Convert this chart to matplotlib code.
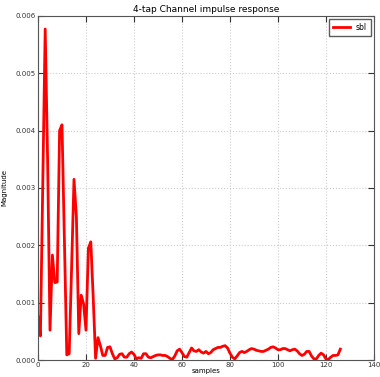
import matplotlib
matplotlib.use('Agg')
import matplotlib.pyplot as plt

# impulse response magnitude, one value per sample
magnitude = [
    0.00075, 0.00042, 0.0031, 0.00577, 0.0035, 0.00052, 0.00183, 0.00135,
    0.00136, 0.0040, 0.0041, 0.0021, 0.00009, 0.00011, 0.0016, 0.00315,
    0.0025, 0.00046, 0.00113, 0.00098, 0.00052, 0.00195, 0.00206, 0.0011,
    0.00003, 0.00039, 0.00025, 0.00008, 0.00008, 0.00022, 0.00023, 0.00011,
    0.00002, 0.00004, 0.0001, 0.00011, 0.00005, 0.00005, 0.00011, 0.00014,
    0.0001, 0.00002, 0.00004, 0.00003, 0.00011, 0.00011, 0.00005, 0.00004,
    0.00006, 0.00008, 0.00009, 0.00009, 0.00008, 0.00008, 0.00006, 0.00003,
    0.00001, 0.00007, 0.00016, 0.00019, 0.00013, 0.00006, 0.00005, 0.00013,
    0.00021, 0.00016, 0.00015, 0.00018, 0.00014, 0.00012, 0.00015, 0.00011,
    0.00013, 0.00018, 0.0002, 0.00022, 0.00022, 0.00024, 0.00025, 0.00021,
    0.00012, 0.00005, 0.00002, 0.00007, 0.00013, 0.00015, 0.00013, 0.00015,
    0.00018, 0.0002, 0.00019, 0.00017, 0.00016, 0.00015, 0.00015, 0.00017,
    0.00019, 0.00022, 0.00023, 0.00021, 0.00018, 0.00018, 0.0002, 0.0002,
    0.00018, 0.00016, 0.00018, 0.00019, 0.00016, 0.00011, 0.00008, 0.0001,
    0.00015, 0.00015, 0.00007, 0.00002, 0.00002, 0.00008, 0.00012, 0.00009,
    0.00002, 0.00001, 0.00005, 0.00008, 0.00008, 0.00009, 0.00019,
]
samples = list(range(len(magnitude)))
xticks = [0, 20, 40, 60, 80, 100, 120, 140]
yticks = [0.000, 0.001, 0.002, 0.003, 0.004, 0.005, 0.006]

fig = plt.figure(figsize=(3.8, 3.77), dpi=100)
ax = fig.add_axes([0.1, 0.045, 0.884, 0.913])

ax.plot(samples, magnitude, color='red', linewidth=2, label='sbl')
ax.set_xlim(0, 140)
ax.set_ylim(0, 0.006)
ax.set_xticks(xticks)
ax.set_yticks(yticks)
ax.set_yticklabels(['%.3f' % v for v in yticks])
ax.tick_params(direction='in', top=True, right=True, labelsize=5,
               length=4, pad=1.5, colors='#333333')
ax.grid(True, color='#cccccc', linestyle=':', linewidth=0.8)
for sp in ax.spines.values():
    sp.set_color('#555555')

ax.set_title('4-tap Channel impulse response', fontsize=6.5, pad=3)
ax.set_xlabel('samples', fontsize=5, labelpad=0)
ax.set_ylabel('Magnitude', fontsize=5, labelpad=6)
leg = ax.legend(loc='upper right', fontsize=5.5, fancybox=False,
                handlelength=2.2, borderpad=0.5, borderaxespad=0.4)
leg.get_frame().set_edgecolor('#333333')

fig.savefig('out.png', dpi=100)
